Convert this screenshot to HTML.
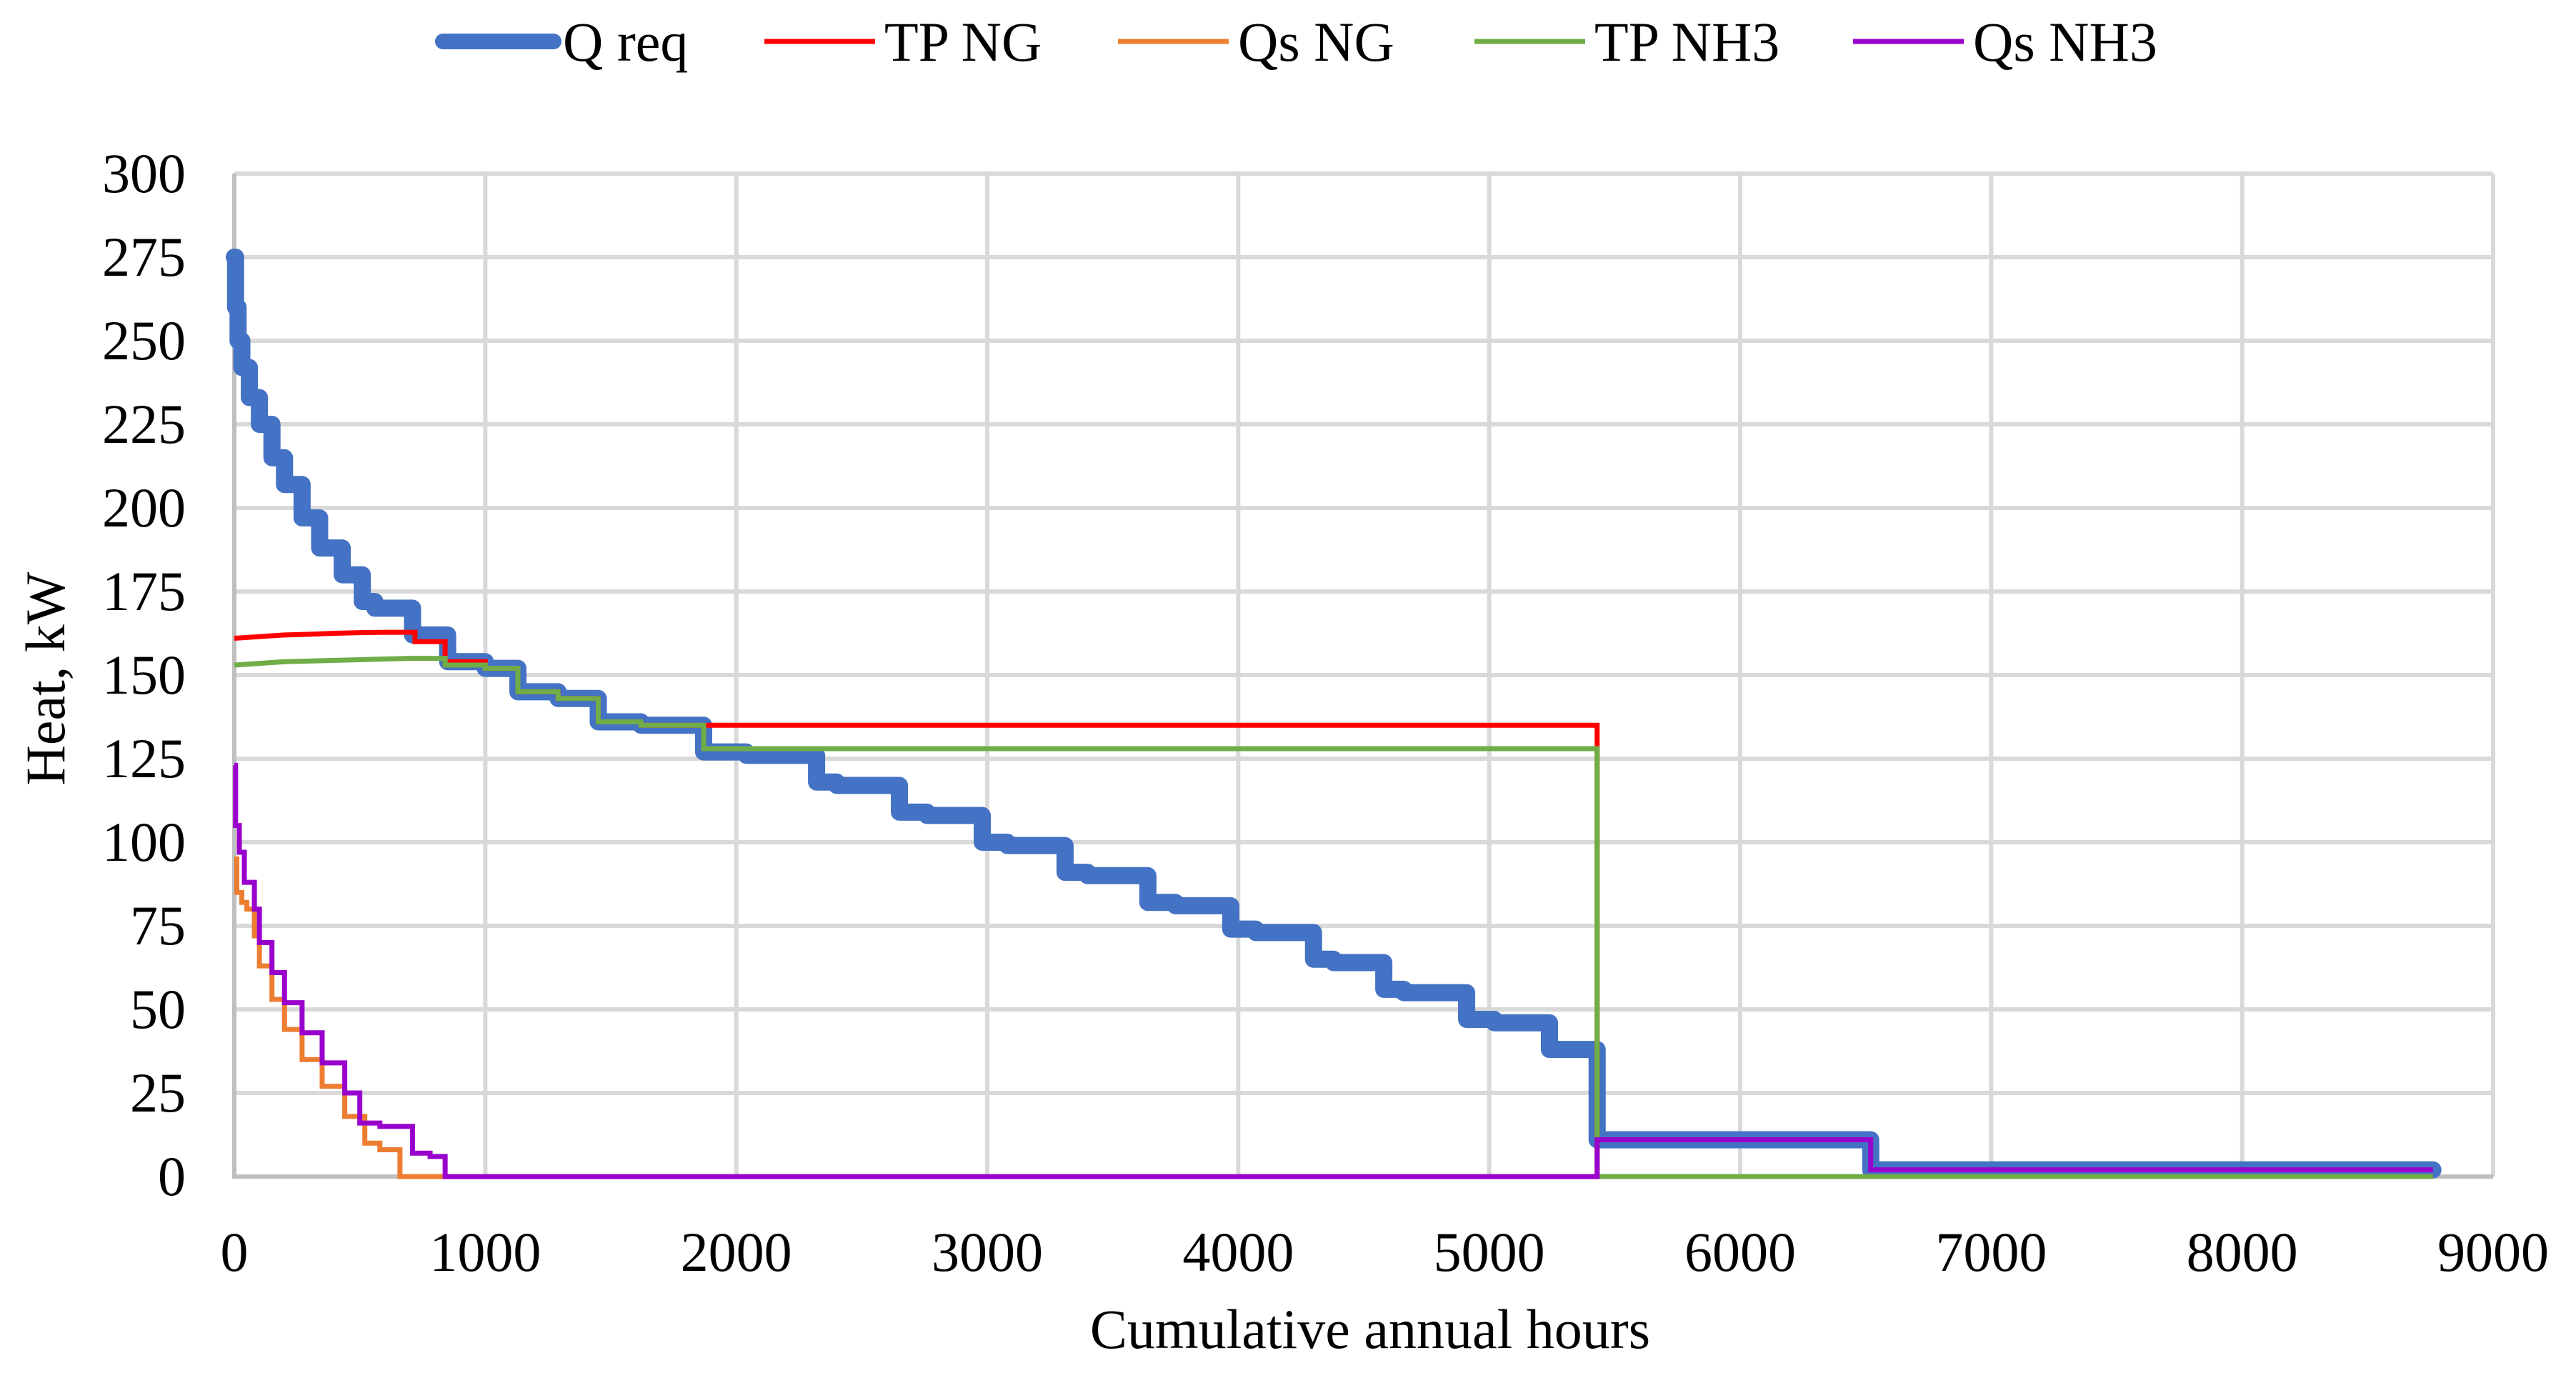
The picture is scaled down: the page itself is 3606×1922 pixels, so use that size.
<!DOCTYPE html>
<html><head><meta charset="utf-8"><style>
body{margin:0;background:#fff;}
svg{display:block;font-family:"Liberation Serif",serif;}
</style></head><body>
<svg id="chart" width="3606" height="1922" viewBox="0 0 3606 1922">
<g id="grid"></g>
<g id="axes"></g>
<g id="series"></g>
<g id="legend"></g>
<text x="1918" y="1887" font-size="78" text-anchor="middle">Cumulative annual hours</text>
<text transform="translate(90,950) rotate(-90)" font-size="78" text-anchor="middle">Heat, kW</text>
</svg>
<script>
const xTicks=[0,1000,2000,3000,4000,5000,6000,7000,8000,9000];
const yTicks=[0,25,50,75,100,125,150,175,200,225,250,275,300];
const qReqHours=[0,5,15,30,60,100,150,200,270,340,430,510,560,710,850,1000,1130,1290,1450,1620,1870,2040,2320,2400,2650,2760,2980,3080,3310,3400,3640,3750,3970,4070,4300,4380,4580,4660,4910,5020,5240,5430,6520,8760];
const qReqVals=[275,260,250,242,233,225,215,207,197,188,180,172,170,162,154,152,145,143,136,135,127,126,118,117,109,108,100,99,91,90,82,81,74,73,65,64,56,55,47,46,38,11,2,2];
const tpNgHours=[0,100,200,300,400,500,600,720,840,1000,1130,1290,1450,1620,5430,5430,8760];
const tpNgVals=[161,161.5,162,162.2,162.5,162.7,162.8,160,154,152,145,143,136,135,135,0,0];
const tpNh3Hours=[0,100,200,300,400,500,600,700,840,1000,1130,1290,1450,1620,1870,5430,5430,8760];
const tpNh3Vals=[153,153.5,154,154.2,154.4,154.6,154.8,155,153,152,145,143,136,135,128,128,0,0];
const qsNgHours=[0,10,30,50,80,100,150,200,270,350,440,520,580,660,8760];
const qsNgVals=[95,85,82,80,72,63,53,44,35,27,18,10,8,0,0];
const qsNh3Hours=[0,5,20,40,80,100,150,200,270,350,440,500,580,710,780,840,5430,6520,8760];
const qsNh3Vals=[123,105,97,88,80,70,61,52,43,34,25,16,15,7,6,0,11,2,2];

const X0=328,X1=3490,Y0=1647,Y1=243;
const xs=h=>X0+(h/9000)*(X1-X0);
const ys=v=>Y0-(v/300)*(Y0-Y1);
const NS="http://www.w3.org/2000/svg";
function mk(tag,parent,attrs){const e=document.createElementNS(NS,tag);for(const k in attrs)e.setAttribute(k,attrs[k]);parent.appendChild(e);return e;}
const grid=document.getElementById('grid'),axes=document.getElementById('axes'),ser=document.getElementById('series'),leg=document.getElementById('legend');
yTicks.forEach(v=>{
 if(v>0){const l=mk('line',grid,{x1:X0,x2:X1,y1:ys(v),y2:ys(v),stroke:'#d9d9d9','stroke-width':6});
 
 }
 const t=mk('text',axes,{x:260,y:ys(v)+26,'font-size':78,'text-anchor':'end'});t.textContent=v;
 
 
});
xTicks.forEach(h=>{
 if(h>0){const l=mk('line',grid,{x1:xs(h),x2:xs(h),y1:Y1,y2:Y0,stroke:'#d9d9d9','stroke-width':6});
 
 }
 const t=mk('text',axes,{x:xs(h),y:1779,'font-size':78,'text-anchor':'middle'});t.textContent=h;
 
 
});
const ax1=mk('line',axes,{x1:X0,x2:X0,y1:Y1,y2:Y0+3,stroke:'#bfbfbf','stroke-width':6});


const ax2=mk('line',axes,{x1:X0,x2:X1,y1:Y0,y2:Y0,stroke:'#bfbfbf','stroke-width':6});


function stepPath(H,V){let d='M'+xs(H[0])+','+ys(V[0]);for(let i=1;i<H.length;i++){d+=' L'+xs(H[i])+','+ys(V[i-1])+' L'+xs(H[i])+','+ys(V[i]);}return d;}
function linePath(H,V,smoothUntil){let d='M'+xs(H[0])+','+ys(V[0]);for(let i=1;i<H.length;i++){if(H[i]<=smoothUntil)d+=' L'+xs(H[i])+','+ys(V[i]);else d+=' L'+xs(H[i])+','+ys(V[i-1])+' L'+xs(H[i])+','+ys(V[i]);}return d;}
const p1=mk('path',ser,{d:stepPath(qReqHours,qReqVals),fill:'none',stroke:'#4472c4','stroke-width':24,'stroke-linejoin':'round','stroke-linecap':'round'});


const p3=mk('path',ser,{d:stepPath(qsNgHours,qsNgVals),fill:'none',stroke:'#ed7d31','stroke-width':7});


const p2=mk('path',ser,{d:linePath(tpNgHours,tpNgVals,600),fill:'none',stroke:'#ff0000','stroke-width':7});


const p4=mk('path',ser,{d:linePath(tpNh3Hours,tpNh3Vals,700),fill:'none',stroke:'#70ad47','stroke-width':7});


const p5=mk('path',ser,{d:stepPath(qsNh3Hours,qsNh3Vals),fill:'none',stroke:'#9900cc','stroke-width':7});


const legendItems=[['Q req','#4472c4',22,620],['TP NG','#ff0000',7,1070],['Qs NG','#ed7d31',7,1565],['TP NH3','#70ad47',7,2064],['Qs NH3','#9900cc',7,2594]];
legendItems.forEach(it=>{
 const g=mk('g',leg,{});
 
 
 mk('line',g,{x1:it[3],x2:it[3]+155,y1:58,y2:58,stroke:it[1],'stroke-width':it[2],'stroke-linecap':it[2]>10?'round':'butt'});
 const t=mk('text',g,{x:it[3]+168,y:85,'font-size':78});t.textContent=it[0];
});
</script>
</body></html>
